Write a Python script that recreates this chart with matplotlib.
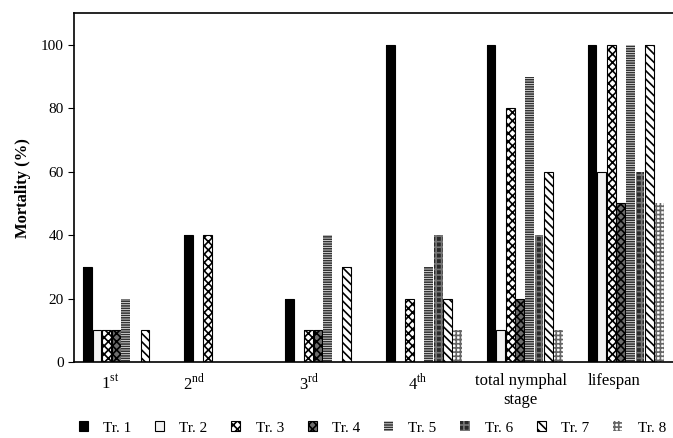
import numpy as np
import matplotlib
matplotlib.use("Agg")
import matplotlib.pyplot as plt
from matplotlib.patches import Patch

plt.rcParams["font.family"] = ["Liberation Serif", "DejaVu Serif"]
plt.rcParams["mathtext.fontset"] = "custom"
plt.rcParams["mathtext.rm"] = "Liberation Serif"
plt.rcParams["hatch.linewidth"] = 1.2

stages = ["1$^{\\rm st}$", "2$^{\\rm nd}$", "3$^{\\rm rd}$", "4$^{\\rm th}$",
          "total nymphal\nstage", "lifespan"]
# label positions as placed in the original (a bit left of the bar groups)
label_pos = [-0.11, 0.72, 1.86, 2.94, 3.96, 4.89]

treatments = ["Tr. 1", "Tr. 2", "Tr. 3", "Tr. 4", "Tr. 5", "Tr. 6", "Tr. 7", "Tr. 8"]
tr1 = [30, 40, 20, 100, 100, 100]
tr2 = [10, 0, 0, 0, 10, 60]
tr3 = [10, 40, 10, 20, 80, 100]
tr4 = [10, 0, 10, 0, 20, 50]
tr5 = [20, 0, 40, 30, 90, 100]
tr6 = [0, 0, 0, 40, 40, 60]
tr7 = [10, 0, 30, 20, 60, 100]
tr8 = [0, 0, 0, 10, 10, 50]
series = [tr1, tr2, tr3, tr4, tr5, tr6, tr7, tr8]

# (facecolor, hatch, hatch colour, outline)
styles = [
    ("black", None, "black", True),
    ("#f2f2f2", None, "black", True),
    ("white", "xxxx", "black", True),
    ("#6e6e6e", "xxxx", "black", True),
    ("white", "-------", "#333333", False),
    ("#2a2a2a", "+++", "#777777", False),
    ("white", "\\\\\\\\", "black", True),
    ("white", "++++", "#666666", False),
]

fig = plt.figure(figsize=(6.73, 4.38), dpi=100)
ax = fig.add_axes([0.110, 0.1735, 0.89, 0.7965])

x = np.arange(len(stages))
w = 0.095
handles = []
for j, (vals, (fc, hatch, hc, outline)) in enumerate(zip(series, styles)):
    pos = x + (j - 3.5) * w
    v = np.array(vals, dtype=float)
    m = v > 0
    ax.bar(pos[m], v[m], width=w * 0.92, color=fc, hatch=hatch,
           edgecolor=hc, linewidth=0)
    if outline:
        ax.bar(pos[m], v[m], width=w * 0.92, facecolor="none",
               edgecolor="black", linewidth=0.8)
    handles.append(Patch(facecolor=fc, hatch=hatch,
                         edgecolor="black" if outline else hc,
                         linewidth=0.8 if outline else 0,
                         label=treatments[j]))

ax.set_xlim(-0.465, 5.47)
ax.set_ylim(0, 110)
ax.set_yticks([0, 20, 40, 60, 80, 100])
ax.set_xticks(label_pos)
ax.set_xticklabels(stages, fontsize=12)
ax.tick_params(axis="x", length=0, pad=8)
ax.tick_params(axis="y", length=4, direction="out", labelsize=11)
ax.set_ylabel("Mortality (%)", fontsize=12, fontweight="bold", labelpad=7)
ax.spines["right"].set_visible(False)
for s in ["left", "bottom", "top"]:
    ax.spines[s].set_linewidth(1.2)

fig.legend(handles=handles, loc="center", ncol=8, frameon=False,
           bbox_to_anchor=(0.553, 0.023), fontsize=11, handlelength=0.6,
           handleheight=0.6, handletextpad=1.0, columnspacing=1.55)

fig.savefig("out.png", dpi=100)
